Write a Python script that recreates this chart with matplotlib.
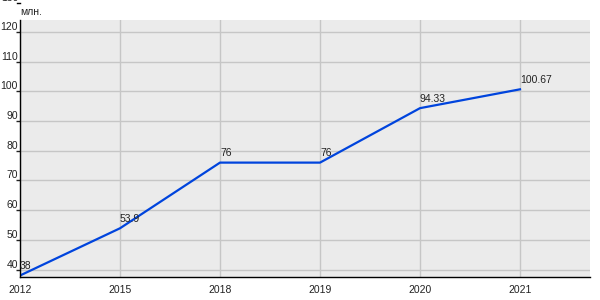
import matplotlib.pyplot as plt

plt.rcParams['font.family'] = ['Liberation Sans', 'DejaVu Sans']

years = ['2012', '2015', '2018', '2019', '2020', '2021']
values = [38, 53.9, 76, 76, 94.33, 100.67]
labels = ['38', '53.9', '76', '76', '94.33', '100.67']
y_ticks = [40, 50, 60, 70, 80, 90, 100, 110, 120]

fig = plt.figure(figsize=(6, 3), dpi=100)
ax = fig.add_axes([20 / 600, 23 / 300, 570 / 600, 257 / 300])
ax.set_facecolor('#ebebeb')

x = list(range(len(years)))
ax.plot(x, values, color='#0044dd', linewidth=1.6)
for xi, v, lab in zip(x, values, labels):
    ax.annotate(lab, (xi, v), xytext=(0, 3), textcoords='offset points',
                fontsize=7.5, color='#222222', ha='left', va='bottom')

ax.set_xlim(0, 5.7)
ax.set_ylim(37.5, 124)
ax.set_xticks(x)
ax.set_xticklabels(years)
ax.set_yticks(y_ticks)
ax.grid(True, color='#c6c6c6', linewidth=1)
ax.set_axisbelow(True)

for side in ['top', 'right']:
    ax.spines[side].set_visible(False)
for side in ['left', 'bottom']:
    ax.spines[side].set_color('black')
    ax.spines[side].set_linewidth(1.0)

ax.tick_params(axis='y', length=3, width=1, pad=-1.5, labelsize=7.5, colors='#222222')
ax.tick_params(axis='x', length=0, pad=6, labelsize=7.5, colors='#222222')
for lbl in ax.get_yticklabels():
    lbl.set_verticalalignment('bottom')

# the 130 tick of the original sits above the plot, mostly cut off
fig.text(18.5 / 600, 1 - 3 / 300, '130', fontsize=7.5, color='#222222',
         ha='right', va='bottom')
fig.add_artist(plt.Line2D([17 / 600, 20 / 600], [1 - 3 / 300, 1 - 3 / 300],
                          color='black', linewidth=1))

fig.text(20 / 600, 1 - 12 / 300, 'млн.', fontsize=7.5, color='#222222',
         ha='left', va='center')

fig.savefig('out.png', dpi=100)
plt.close(fig)
